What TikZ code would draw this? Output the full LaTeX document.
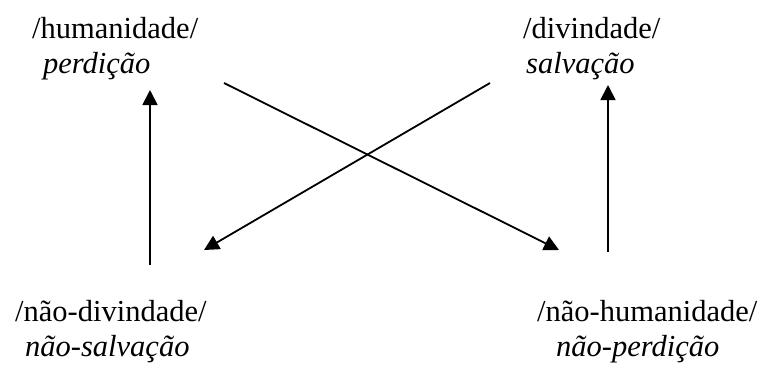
\documentclass[tikz,border=0pt]{standalone}
\usepackage{fontspec}
\setmainfont{Liberation Serif}
\usetikzlibrary{arrows.meta}

\begin{document}
\begin{tikzpicture}[
        x=1pt, y=-1pt,
        font=\fontsize{30.5}{35}\selectfont,
        >={Triangle[length=15pt,width=15pt]},
        termo/.style={
            anchor=base west,
            align=left,
            inner sep=0pt
        },
        arrow/.style={
            ->,
            line width=1.8pt
        }
    ]
    \useasboundingbox (0,0) rectangle (768,368);

    % Linha superior
    \node[termo] (humanidade) at (32,73) {
        /humanidade/\\
        \hspace*{11pt}\textit{perdição}
    };

    \node[termo] (divindade) at (523,73) {
        /divindade/\\
        \hspace*{3pt}\textit{salvação}
    };

    % Linha inferior
    \node[termo] (naodivindade) at (15,356) {
        /não-divindade/\\
        \hspace*{10pt}\textit{não-salvação}
    };

    \node[termo] (naohumanidade) at (537,356) {
        /não-humanidade/\\
        \hspace*{19pt}\textit{não-perdição}
    };

    % Extremidades das setas
    \coordinate (esqbaixo) at (150,265);
    \coordinate (esqcima)  at (150,90);
    \coordinate (dirbaixo) at (608,252);
    \coordinate (dircima)  at (608,85);
    \coordinate (d1ini) at (224,83);
    \coordinate (d1fim) at (559,250);
    \coordinate (d2ini) at (490,83);
    \coordinate (d2fim) at (204,250);

    % Setas
    \draw[arrow] (esqbaixo) -- (esqcima);
    \draw[arrow] (dirbaixo) -- (dircima);
    \draw[arrow] (d1ini) -- (d1fim);
    \draw[arrow] (d2ini) -- (d2fim);

\end{tikzpicture}
\end{document}
